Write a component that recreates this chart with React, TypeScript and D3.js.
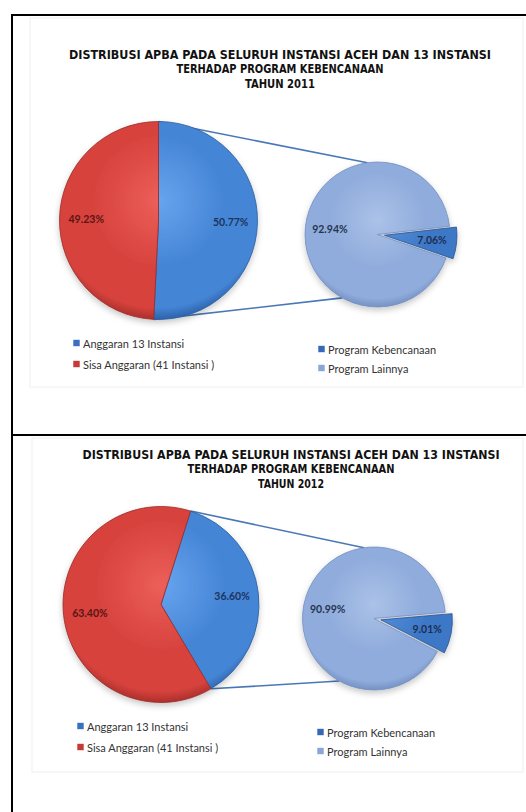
import React from 'react';
import * as d3 from 'd3';

// ---------- data ----------
const years = ['2011', '2012'];
const titleLines = ['DISTRIBUSI APBA PADA SELURUH INSTANSI ACEH DAN 13 INSTANSI', 'TERHADAP PROGRAM KEBENCANAAN'];
const mainCategories = ['Anggaran 13 Instansi', 'Sisa Anggaran (41 Instansi )'];
const subCategories = ['Program Kebencanaan', 'Program Lainnya'];
const mainValues2011 = [50.77, 49.23];
const mainValues2012 = [36.6, 63.4];
const subValues2011 = [7.06, 92.94];
const subValues2012 = [9.01, 90.99];

// ---------- layout / style ----------
const W = 526;
const H = 812;
const deg = Math.PI / 180;

const panels = [
  {
    year: years[0], main: mainValues2011, sub: subValues2011,
    titleX: 280, titleY: [54, 68.5, 83], titleW: [422, 207, 70],
    mc: [158.5, 220.5], mr: 99, ms: 0,
    sc: [377.5, 234.5], sr: 72.5, ss: 83.5,
    leg1: [73, 343, 21], leg2: [318, 349, 19],
    area: [30, 18, 523, 387],
  },
  {
    year: years[1], main: mainValues2012, sub: subValues2012,
    titleX: 291, titleY: [454, 468.5, 483], titleW: [417, 207, 66],
    mc: [161, 604.5], mr: 98, ms: 17.6,
    sc: [374, 618.5], sr: 71.5, ss: 85,
    leg1: [77, 726, 21], leg2: [317, 732, 19],
    area: [32, 438, 523, 772],
  },
];

const mainColors = [
  { light: '#68a4ee', base: '#4585d6', dark: '#2c62ab', stroke: '#2d5f9f', label: '#1c355f' },
  { light: '#ec5f59', base: '#d8433e', dark: '#ad2f2b', stroke: '#962a27', label: '#5a1514' },
];
const subColors = [
  { light: '#5590dc', base: '#3d78c6', dark: '#2b5a9c', stroke: '#2a5290', label: '#1c2f52' },
  { light: '#abc2e8', base: '#90acdc', dark: '#7592c4', stroke: '#728ebf', label: '#25344f' },
];
const legendMainColors = ['#3a70c0', '#c63a37'];
const legendSubColors = ['#3568b5', '#8aa6d8'];

const connectorColor = '#4a78b6';
const titleFont = "'Liberation Sans Narrow', 'DejaVu Sans Condensed', 'Roboto Condensed', sans-serif";
const bodyFont = "Lato, 'Open Sans', sans-serif";

function Panel({ p, idx }: { p: any; idx: number }) {
  const pieMain = d3.pie<number>().sort(null).value((d) => d)
    .startAngle(p.ms * deg).endAngle(p.ms * deg + 2 * Math.PI);
  const pieSub = d3.pie<number>().sort(null).value((d) => d)
    .startAngle(p.ss * deg).endAngle(p.ss * deg + 2 * Math.PI);
  const mainArcs = pieMain(p.main);
  const subArcs = pieSub(p.sub);
  const arcMain = d3.arc<any>().innerRadius(0).outerRadius(p.mr);
  const arcSub = d3.arc<any>().innerRadius(0).outerRadius(p.sr);
  const labelMain = d3.arc<any>().innerRadius(p.mr * 0.73).outerRadius(p.mr * 0.73);
  const labelSub = d3.arc<any>().innerRadius(p.sr * 0.66).outerRadius(p.sr * 0.66);
  const explode = 7;

  const pt = (c: number[], r: number, a: number) => [c[0] + r * Math.sin(a), c[1] - r * Math.cos(a)];
  const m0 = pt(p.mc, p.mr, mainArcs[0].startAngle);
  const m1 = pt(p.mc, p.mr, mainArcs[0].endAngle);
  const s0 = pt(p.sc, p.sr, 352 * deg);
  const s1 = pt(p.sc, p.sr, 209 * deg);

  const id = `p${idx}`;
  const [ax0, ay0, ax1, ay1] = p.area;
  const offs = (a: any, i: number) => {
    const mid = (a.startAngle + a.endAngle) / 2;
    const off = i === 0 ? explode : 0;
    return [off * Math.sin(mid), -off * Math.cos(mid)];
  };
  return (
    <g>
      <defs>
        {mainColors.map((c, i) => (
          <radialGradient key={i} id={`${id}m${i}`} gradientUnits="userSpaceOnUse"
            cx={0} cy={-p.mr * 0.2} r={p.mr * 1.2}>
            <stop offset="0" stopColor={c.light} />
            <stop offset="0.55" stopColor={c.base} />
            <stop offset="0.9" stopColor={c.base} />
            <stop offset="1" stopColor={c.dark} />
          </radialGradient>
        ))}
        {subColors.map((c, i) => (
          <radialGradient key={i} id={`${id}s${i}`} gradientUnits="userSpaceOnUse"
            cx={0} cy={-p.sr * 0.2} r={p.sr * 1.2}>
            <stop offset="0" stopColor={c.light} />
            <stop offset="0.55" stopColor={c.base} />
            <stop offset="0.9" stopColor={c.base} />
            <stop offset="1" stopColor={c.dark} />
          </radialGradient>
        ))}
        <filter id={`${id}sh`} x="-20%" y="-20%" width="140%" height="150%">
          <feDropShadow dx="0" dy="3" stdDeviation="3" floodColor="#000" floodOpacity="0.22" />
        </filter>
      </defs>
      <rect x={ax0} y={ay0} width={ax1 - ax0} height={ay1 - ay0} fill="#fff" stroke="#efefef" strokeWidth={1} />
      {/* title */}
      {[...titleLines, `TAHUN ${p.year}`].map((t, i) => (
        <text key={i} x={p.titleX} y={p.titleY[i]} textAnchor="middle" dominantBaseline="central"
          fontFamily={titleFont} fontWeight="bold" fontSize={13}
          textLength={p.titleW[i]} lengthAdjust="spacingAndGlyphs" fill="#111">
          {t}
        </text>
      ))}
      {/* connectors */}
      <line x1={m0[0]} y1={m0[1]} x2={s0[0]} y2={s0[1]} stroke={connectorColor} strokeWidth={1.6} />
      <line x1={m1[0]} y1={m1[1]} x2={s1[0]} y2={s1[1]} stroke={connectorColor} strokeWidth={1.6} />
      {/* main pie */}
      <g filter={`url(#${id}sh)`} transform={`translate(${p.mc[0]},${p.mc[1]})`}>
        {mainArcs.map((a, i) => (
          <path key={i} d={arcMain(a) as string}
            fill={`url(#${id}m${i})`} stroke={mainColors[i].stroke} strokeWidth={1} strokeOpacity={0.8} />
        ))}
      </g>
      {mainArcs.map((a, i) => {
        const [lx, ly] = labelMain.centroid(a);
        return (
          <text key={i} x={p.mc[0] + lx} y={p.mc[1] + ly} textAnchor="middle" dominantBaseline="central"
            fontFamily={bodyFont} fontWeight="bold" fontSize={10.5} fill={mainColors[i].label}>
            {a.data.toFixed(2)}%
          </text>
        );
      })}
      {/* sub pie */}
      <g filter={`url(#${id}sh)`}>
        {subArcs.map((a, i) => {
          const [dx, dy] = offs(a, i);
          return (
            <g key={i} transform={`translate(${p.sc[0] + dx},${p.sc[1] + dy})`}>
              <path d={arcSub(a) as string} fill={`url(#${id}s${i})`} stroke={subColors[i].stroke}
                strokeWidth={1} strokeOpacity={0.8} />
            </g>
          );
        })}
      </g>
      {subArcs.map((a, i) => {
        const [dx, dy] = offs(a, i);
        const [lx, ly] = labelSub.centroid(a);
        return (
          <text key={i} x={p.sc[0] + lx + dx} y={p.sc[1] + ly + dy}
            textAnchor="middle" dominantBaseline="central"
            fontFamily={bodyFont} fontWeight="bold" fontSize={10.5} fill={subColors[i].label}>
            {a.data.toFixed(2)}%
          </text>
        );
      })}
      {/* legends */}
      {mainCategories.map((c, i) => (
        <g key={i} transform={`translate(${p.leg1[0]},${p.leg1[1] + i * p.leg1[2]})`}>
          <rect x={0} y={-3.5} width={7} height={7} fill={legendMainColors[i]} stroke="#fff" strokeWidth={0.6} />
          <text x={10} y={0} dominantBaseline="central" fontFamily={bodyFont}
            fontSize={11} fill="#333">{c}</text>
        </g>
      ))}
      {subCategories.map((c, i) => (
        <g key={i} transform={`translate(${p.leg2[0]},${p.leg2[1] + i * p.leg2[2]})`}>
          <rect x={0} y={-3.5} width={7} height={7} fill={legendSubColors[i]} stroke="#fff" strokeWidth={0.6} />
          <text x={10} y={0} dominantBaseline="central" fontFamily={bodyFont}
            fontSize={11} fill="#333">{c}</text>
        </g>
      ))}
    </g>
  );
}

export default function App() {
  return (
    <svg width={W} height={H} style={{ position: 'absolute', left: 0, top: 0, background: '#fff' }}>
      <rect x={0} y={0} width={W} height={H} fill="#fff" />
      {panels.map((p, i) => <Panel key={i} p={p} idx={i} />)}
      {/* frame */}
      <line x1={11} y1={15} x2={W} y2={15} stroke="#000" strokeWidth={2} />
      <line x1={12} y1={14} x2={12} y2={H} stroke="#000" strokeWidth={2} />
      <line x1={11} y1={435} x2={W} y2={435} stroke="#000" strokeWidth={2} />
    </svg>
  );
}
